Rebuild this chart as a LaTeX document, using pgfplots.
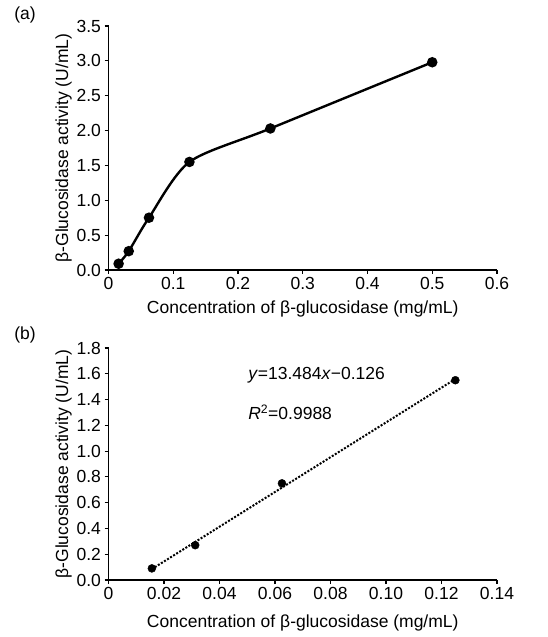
\documentclass[border=0pt]{standalone}
\usepackage{fontspec}
\setmainfont{Liberation Sans}
\usepackage{pgfplots}
\pgfplotsset{compat=1.18}

\pgfplotsset{
  panel/.style={
    scale only axis, width=388.5pt, anchor=south west,
    axis lines*=left, axis line style={line width=1.1pt},
    tick align=outside, major tick length=4pt,
    tick style={line width=1.1pt, black},
    every tick label/.append style={font=\fontsize{17.5}{20}\selectfont},
    label style={font=\fontsize{17.5}{20}\selectfont},
    /pgf/number format/assume math mode=true,
    xmin=0, ymin=0,
    ylabel={β-Glucosidase activity (U/mL)},
    xlabel={Concentration of β-glucosidase (mg/mL)},
    clip=false,
  },
}

\begin{document}
\begin{tikzpicture}
\path[use as bounding box] (0,0) rectangle (548pt,637pt);

% (a) full range
\begin{axis}[panel, at={(108.5pt,367pt)}, height=244pt,
  xmax=0.6, ymax=3.5,
  xtick={0,0.1,0.2,0.3,0.4,0.5,0.6},
  xticklabels={0,0.1,0.2,0.3,0.4,0.5,0.6},
  ytick={0,0.5,1,1.5,2,2.5,3,3.5},
  yticklabel style={/pgf/number format/.cd, fixed, fixed zerofill, precision=1},
  xlabel style={yshift=-4pt},
  ylabel style={yshift=-2pt}]
\addplot[black, line width=2.4pt, smooth, tension=0.45, mark=*, mark size=4pt,
  mark options={solid}]
  coordinates {(0.015625,0.09)(0.03125,0.27)(0.0625,0.75)(0.125,1.55)(0.25,2.03)(0.5,2.98)};
\end{axis}
\node[font=\fontsize{17.5}{20}\selectfont] at (25pt,622pt) {(a)};

% (b) linear part
\begin{axis}[panel, at={(108.5pt,57pt)}, height=232pt,
  xmax=0.14, ymax=1.8,
  xtick={0,0.02,0.04,0.06,0.08,0.10,0.12,0.14},
  xticklabels={0,0.02,0.04,0.06,0.08,0.10,0.12,0.14},
  ytick={0,0.2,0.4,0.6,0.8,1.0,1.2,1.4,1.6,1.8},
  yticklabel style={/pgf/number format/.cd, fixed, fixed zerofill, precision=1},
  xlabel style={yshift=-8pt},
  ylabel style={yshift=-2pt}]
\addplot[black, line width=2pt, dash pattern=on 2pt off 1.6pt] coordinates {(0.015625,0.0847)(0.125,1.5595)};
\addplot[only marks, black, mark=*, mark size=4pt]
  coordinates {(0.015625,0.09)(0.03125,0.27)(0.0625,0.75)(0.125,1.55)};
\node[anchor=west, font=\fontsize{17.5}{20}\selectfont, inner sep=0pt] at (axis cs:0.0503,1.59) {\textit{y}=13.484\textit{x}−0.126};
\node[anchor=west, font=\fontsize{17.5}{20}\selectfont, inner sep=0pt] at (axis cs:0.0503,1.30) {\textit{R}\textsuperscript{2}=0.9988};
\end{axis}
\node[font=\fontsize{17.5}{20}\selectfont] at (25pt,302pt) {(b)};
\end{tikzpicture}
\end{document}
